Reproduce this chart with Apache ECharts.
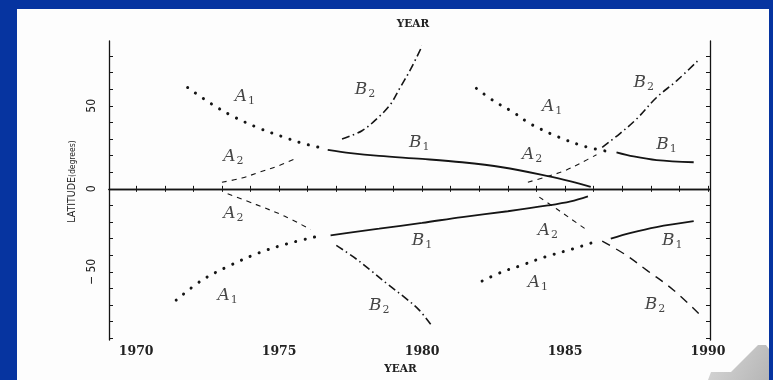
<!DOCTYPE html>
<html><head><meta charset="utf-8">
<script src="https://cdn.jsdelivr.net/npm/echarts@6/dist/echarts.min.js"></script>
<style>html,body{margin:0;padding:0;background:#0634a0}#c{width:773px;height:380px}</style>
</head><body><div id="c"></div>
<script>
// ---- Data (year, latitude in degrees) ----
const xTickYears = [1970,1971,1972,1973,1974,1975,1976,1977,1978,1979,1980,1981,1982,1983,1984,1985,1986,1987,1988,1989,1990];
const xLabelYears = [1970,1975,1980,1985,1990];
const yTickValues = [-90,-80,-70,-60,-50,-40,-30,-20,-10,0,10,20,30,40,50,60,70,80];
const yLabelValues = [-50,0,50];

// cycle 1, north
const A1_n1 = [[1971.8,61],[1972.6,51.5],[1973.4,43.5],[1974.3,36.5],[1975.1,31.5],[1975.8,27.5],[1976.4,25]];
const A2_n1 = [[1973.0,4],[1973.7,6.5],[1974.3,10],[1975.0,14],[1975.6,18.5]];
const B1_n1 = [[1976.7,23.5],[1977.5,21.5],[1978.5,19.8],[1980,18],[1981.4,16],[1982.8,13],[1984.4,7.7],[1985.2,4.5],[1985.9,1.2]];
const B2_n1 = [[1977.2,30],[1977.9,35],[1978.5,43.5],[1978.9,51],[1979.2,60],[1979.6,72],[1980.0,86]];
// cycle 2, north
const A1_n2 = [[1981.9,60.5],[1982.5,53],[1983.2,46],[1983.8,39],[1984.8,31],[1985.7,25.5],[1986.5,22.5]];
const A2_n2 = [[1983.7,4],[1984.3,7],[1985.0,11],[1985.6,16],[1986.1,20.5]];
const B2_n2 = [[1986.3,25],[1986.9,33],[1987.5,42],[1988.2,55],[1988.9,65],[1989.7,78]];
const B1_n2 = [[1986.8,22],[1987.4,19.5],[1988.2,17.3],[1989.5,16]];
// cycle 1, south
const A2_s1 = [[1973.2,-3],[1974.2,-9.5],[1975.2,-16.5],[1976.1,-24.5]];
const A1_s1 = [[1971.4,-67],[1972.3,-55],[1973.3,-46],[1974.3,-38.5],[1975.3,-33],[1976.5,-28]];
const B1_s1 = [[1976.8,-28],[1977.6,-26],[1978.5,-24],[1980,-20.5],[1981.4,-17],[1983,-13.5],[1984.4,-10],[1985.2,-7.5],[1985.8,-4.5]];
const B2_s1 = [[1977.0,-34],[1977.6,-41],[1978.2,-49],[1978.8,-57.5],[1979.4,-65.5],[1979.9,-73],[1980.3,-81.5]];
// cycle 2, south
const A2_s2 = [[1984.1,-5],[1984.7,-12],[1985.2,-18],[1985.7,-24]];
const A1_s2 = [[1982.1,-55.5],[1982.8,-50],[1983.4,-46.5],[1984.3,-41],[1985.3,-36],[1986.2,-31]];
const B1_s2 = [[1986.6,-30],[1987.3,-26.5],[1988.2,-23],[1989.5,-19.5]];
const B2_s2 = [[1986.3,-31.5],[1987.1,-39.5],[1987.9,-49.5],[1988.8,-61],[1989.7,-75.5]];

// curve labels: [year, latitude, letter, index]
const curveLabels = [
  [1973.8,55.4,'A','1'],[1978.0,59.5,'B','2'],[1973.4,19.6,'A','2'],[1979.9,28,'B','1'],
  [1984.55,49.4,'A','1'],[1983.85,20.8,'A','2'],[1987.75,63.7,'B','2'],[1988.55,26.8,'B','1'],
  [1973.4,-14.9,'A','2'],[1973.2,-64.3,'A','1'],[1978.5,-70.2,'B','2'],[1980.0,-31,'B','1'],
  [1984.4,-25,'A','2'],[1984.05,-56.5,'A','1'],[1988.75,-31,'B','1'],[1988.15,-69.6,'B','2']
];

const ink = '#151515';
const styles = {
  dotted:  {color: ink, width: 3, type: [0.1, 9.5], cap: 'round'},
  dashed:  {color: ink, width: 1.1, type: [5, 5]},
  solid:   {color: ink, width: 1.8, type: 'solid'},
  dashdot: {color: ink, width: 1.6, type: [8, 3.5, 1.5, 3.5]},
  longdash:{color: ink, width: 1.4, type: [9, 7]}
};
function line(data, st) {
  return {type: 'line', data: data, showSymbol: false, symbol: 'none', smooth: 0.35,
          lineStyle: Object.assign({}, styles[st]), silent: true, z: 3};
}

const chart = echarts.init(document.getElementById('c'));
const tickStyle = {show: true, inside: true, length: 3, lineStyle: {color: ink, width: 1}};
const axisLine = {show: true, lineStyle: {color: ink, width: 1.3}};
const xMin = 1969.05, xMax = 1990.07, yMin = -91, yMax = 89;

chart.setOption({
  backgroundColor: '#0634a0',
  animation: false,
  graphic: [
    {type: 'rect', shape: {x: 17, y: 9, width: 752, height: 371}, style: {fill: '#fdfdfd'}, z: -100, silent: true},
    {type: 'polygon', shape: {points: [[708,380],[711,372],[731,372],[758,345],[766,345],[769,349],[769,380]]},
     style: {fill: new echarts.graphic.LinearGradient(0,0,1,1,[{offset:0,color:'#d9d9d9'},{offset:1,color:'#b5b5b5'}])}, z: 100, silent: true}
  ],
  grid: {left: 109, right: 63, top: 41, bottom: 37, show: false},
  xAxis: [
    {type: 'value', position: 'bottom', min: xMin, max: xMax,
     axisLine: axisLine, splitLine: {show: false},
     axisTick: Object.assign({customValues: xTickYears}, tickStyle),
     axisLabel: {customValues: xLabelYears, margin: 5, color: '#222', fontFamily: 'DejaVu Serif', fontSize: 12.5, fontWeight: 'bold',
                 formatter: v => String(v)},
     name: 'YEAR', nameLocation: 'middle', nameGap: 24,
     nameTextStyle: {fontFamily: 'DejaVu Serif', fontWeight: 'bold', fontSize: 10.5, color: '#222', padding: [0, 18, 0, 0]}},
    {type: 'value', position: 'top', min: xMin, max: xMax,
     axisLine: axisLine, splitLine: {show: false},
     axisTick: Object.assign({customValues: xTickYears}, tickStyle),
     axisLabel: {show: false},
     name: 'YEAR', nameLocation: 'middle', nameGap: 11,
     nameTextStyle: {fontFamily: 'DejaVu Serif', fontWeight: 'bold', fontSize: 10.5, color: '#222', padding: [0, 0, 0, 7]}}
  ],
  yAxis: [
    {type: 'value', position: 'left', min: yMin, max: yMax,
     axisLine: axisLine, splitLine: {show: false},
     axisTick: Object.assign({customValues: yTickValues}, tickStyle, {length: 4}),
     axisLabel: {customValues: yLabelValues, rotate: 90, margin: 11, color: '#222', fontFamily: 'DejaVu Sans Condensed', fontSize: 12,
                 formatter: v => v < 0 ? '\u2212 ' + Math.abs(v) : String(v)},
     name: '{a|LATITUDE}{b|(degrees)}', nameLocation: 'middle', nameRotate: 90, nameGap: 27,
     nameTextStyle: {padding: [0, 0, 0, 18], rich: {
       a: {fontFamily: 'DejaVu Sans Condensed', fontSize: 10.5, color: '#222'},
       b: {fontFamily: 'DejaVu Sans Condensed', fontSize: 8.5, color: '#222'}}}},
    {type: 'value', position: 'right', min: yMin, max: yMax,
     axisLine: axisLine, splitLine: {show: false},
     axisTick: Object.assign({customValues: yTickValues}, tickStyle, {length: 4}),
     axisLabel: {show: false}}
  ],
  series: [
    {type: 'line', data: [], symbol: 'none', silent: true,
     markLine: {silent: true, symbol: 'none', label: {show: false}, animation: false,
                lineStyle: {color: ink, width: 1.2, type: 'solid'}, data: [{yAxis: 0}]}},
    line(A1_n1,'dotted'), line(A2_n1,'dashed'), line(B1_n1,'solid'), line(B2_n1,'dashdot'),
    line(A1_n2,'dotted'), line(A2_n2,'dashed'), line(B2_n2,'dashdot'), line(B1_n2,'solid'),
    line(A2_s1,'dashed'), line(A1_s1,'dotted'), line(B1_s1,'solid'), line(B2_s1,'dashdot'),
    line(A2_s2,'dashed'), line(A1_s2,'dotted'), line(B1_s2,'solid'), line(B2_s2,'longdash'),
    {type: 'scatter', symbolSize: 0, silent: true, z: 4,
     data: curveLabels.map(d => ({value: [d[0], d[1]], name: d[2] + d[3]})),
     label: {show: true, position: 'inside',
       formatter: p => '{L|' + curveLabels[p.dataIndex][2] + '}{s|' + curveLabels[p.dataIndex][3] + '}',
       rich: {
         L: {fontFamily: 'DejaVu Serif', fontStyle: 'italic', fontSize: 17, color: '#151515', lineHeight: 20},
         s: {fontFamily: 'DejaVu Serif', fontSize: 11, color: '#151515', lineHeight: 20, verticalAlign: 'bottom', padding: [7, 0, 0, 1]}
       }}}
  ]
});
</script></body></html>
